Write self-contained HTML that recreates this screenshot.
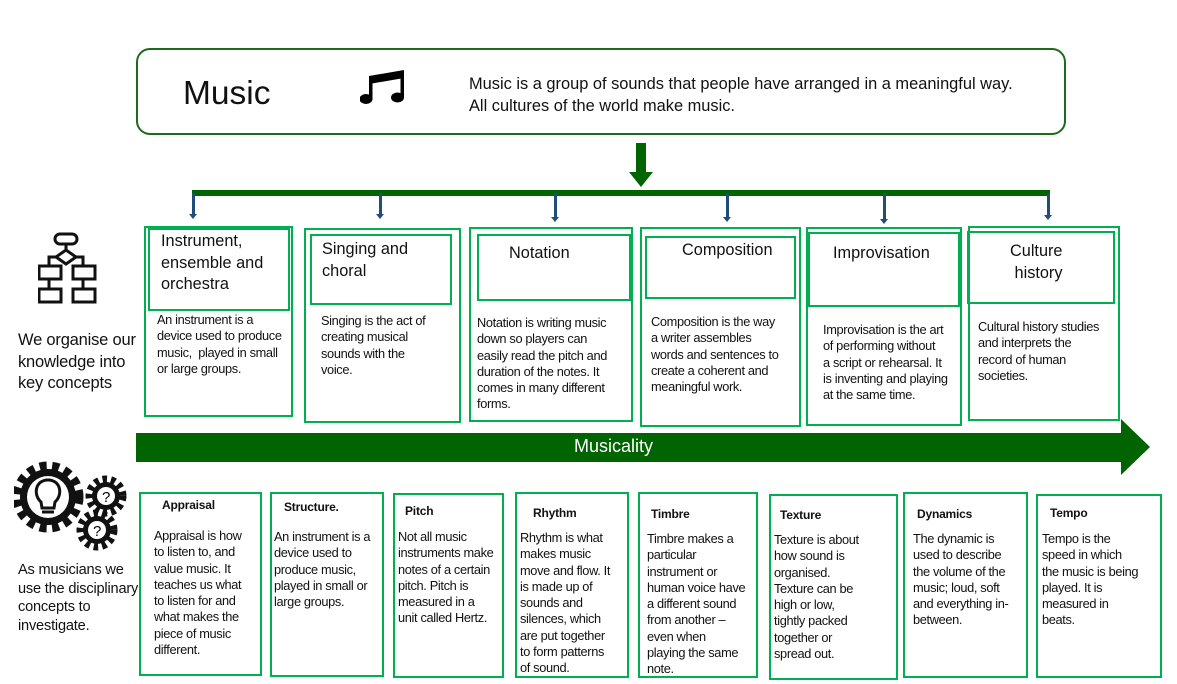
<!DOCTYPE html>
<html><head><meta charset="utf-8"><style>
body{margin:0;width:1177px;height:684px;background:#fff;position:relative;overflow:hidden;font-family:"Liberation Sans",sans-serif;color:#111}
.b{position:absolute;border:2px solid #00b050;box-sizing:border-box}
.t{position:absolute;white-space:nowrap;font-size:12.8px;line-height:16.3px;letter-spacing:-0.35px}
.h{position:absolute;white-space:nowrap;font-size:16.3px;line-height:21.5px}
.bh{position:absolute;white-space:nowrap;font-size:12px;font-weight:bold;letter-spacing:-0.2px}
.sa{position:absolute;width:3px;background:#1f4e79;top:193px}
.sa:after{content:"";position:absolute;left:-3px;bottom:-4px;border-left:4.5px solid transparent;border-right:4.5px solid transparent;border-top:5px solid #1f4e79}
</style></head><body>
<div style="position:absolute;left:136px;top:48px;width:930px;height:87px;border:2px solid #1e6b1e;border-radius:14px;box-sizing:border-box"></div>
<div style="position:absolute;left:183px;top:75px;font-size:33.5px">Music</div>
<svg style="position:absolute;left:360px;top:70px" width="46" height="36" viewBox="0 0 46 36">
<polygon points="9,6 44,0 44,8 9,14" fill="#000"/>
<rect x="9" y="6" width="3.5" height="24" fill="#000"/><rect x="40.5" y="1" width="3.5" height="27" fill="#000"/>
<ellipse cx="6" cy="29" rx="6.5" ry="5" fill="#000"/><ellipse cx="37.5" cy="27.5" rx="6.5" ry="5" fill="#000"/>
</svg>
<div style="position:absolute;left:469px;top:73px;font-size:16.4px;line-height:22px;white-space:nowrap">Music is a group of sounds that people have arranged in a meaningful way.<br>All cultures of the world make music.</div>
<!-- down arrow -->
<div style="position:absolute;left:636px;top:143px;width:10px;height:30px;background:#006400"></div>
<div style="position:absolute;left:629px;top:172px;border-left:12px solid transparent;border-right:12px solid transparent;border-top:15px solid #006400"></div>
<div style="position:absolute;left:192px;top:190px;width:858px;height:6px;background:#006400"></div>
<div class="sa" style="left:192px;height:22px"></div>
<div class="sa" style="left:379px;height:22px"></div>
<div class="sa" style="left:554px;height:25px"></div>
<div class="sa" style="left:726px;height:25px"></div>
<div class="sa" style="left:883px;height:27px"></div>
<div class="sa" style="left:1047px;height:23px"></div>
<!-- flowchart icon -->
<svg style="position:absolute;left:38px;top:232px" width="62" height="85" viewBox="0 0 62 85" fill="none" stroke="#111" stroke-width="3">
<rect x="17" y="2" width="22" height="10" rx="5"/><line x1="28" y1="12" x2="28" y2="18"/><polygon points="28,18 38,25 28,32 18,25"/>
<polyline points="18,25 11,25 11,34"/><polyline points="38,25 45,25 45,34"/>
<rect x="1" y="34" width="22" height="13"/><rect x="35" y="34" width="22" height="13"/>
<line x1="11" y1="47" x2="11" y2="57"/><line x1="45" y1="47" x2="45" y2="57"/>
<rect x="1" y="57" width="22" height="13"/><rect x="35" y="57" width="22" height="13"/>
</svg>
<div style="position:absolute;left:18px;top:330px;font-size:16.5px;line-height:21.5px;white-space:nowrap;letter-spacing:-0.2px">We organise our<br>knowledge into<br>key concepts</div>
<!-- top boxes -->
<div class="b" style="left:144px;top:226px;width:149px;height:191px"></div>
<div class="b" style="left:148px;top:228px;width:142px;height:83px"></div>
<div class="h" style="left:161px;top:231px">Instrument,<br>ensemble and<br>orchestra</div>
<div class="t" style="left:157px;top:312px">An instrument is a<br>device used to produce<br>music,&nbsp; played in small<br>or large groups.</div>

<div class="b" style="left:304px;top:228px;width:157px;height:195px"></div>
<div class="b" style="left:310px;top:234px;width:142px;height:71px"></div>
<div class="h" style="left:322px;top:239px">Singing and<br>choral</div>
<div class="t" style="left:321px;top:313px">Singing is the act of<br>creating musical<br>sounds with the<br>voice.</div>

<div class="b" style="left:469px;top:227px;width:164px;height:195px"></div>
<div class="b" style="left:477px;top:234px;width:154px;height:67px"></div>
<div class="h" style="left:509px;top:243px">Notation</div>
<div class="t" style="left:477px;top:315px">Notation is writing music<br>down so players can<br>easily read the pitch and<br>duration of the notes. It<br>comes in many different<br>forms.</div>

<div class="b" style="left:640px;top:227px;width:161px;height:200px"></div>
<div class="b" style="left:645px;top:236px;width:151px;height:63px"></div>
<div class="h" style="left:682px;top:240px">Composition</div>
<div class="t" style="left:651px;top:314px">Composition is the way<br>a writer assembles<br>words and sentences to<br>create a coherent and<br>meaningful work.</div>

<div class="b" style="left:806px;top:227px;width:156px;height:199px"></div>
<div class="b" style="left:808px;top:232px;width:152px;height:75px"></div>
<div class="h" style="left:833px;top:243px">Improvisation</div>
<div class="t" style="left:823px;top:322px">Improvisation is the art<br>of performing without<br>a script or rehearsal. It<br>is inventing and playing<br>at the same time.</div>

<div class="b" style="left:968px;top:226px;width:152px;height:195px"></div>
<div class="b" style="left:967px;top:231px;width:148px;height:73px"></div>
<div class="h" style="left:1010px;top:241px">Culture<br>&nbsp;history</div>
<div class="t" style="left:978px;top:319px">Cultural history studies<br>and interprets the<br>record of human<br>societies.</div>

<!-- Musicality arrow -->
<div style="position:absolute;left:136px;top:433px;width:986px;height:29px;background:#006400"></div>
<div style="position:absolute;left:1121px;top:419px;border-top:28px solid transparent;border-bottom:28px solid transparent;border-left:29px solid #006400"></div>
<div style="position:absolute;left:574px;top:436px;color:#fff;font-size:18px">Musicality</div>

<!-- gears icon -->
<svg style="position:absolute;left:14px;top:460px" width="115" height="100" viewBox="0 0 115 100">
<g fill="#111">
<circle cx="34" cy="37" r="28"/>
<g stroke="#111" stroke-width="9" stroke-dasharray="7 5.5"><circle cx="34" cy="37" r="31" fill="none"/></g>
<circle cx="92" cy="36" r="14"/><g stroke="#111" stroke-width="7" stroke-dasharray="4.5 4"><circle cx="92" cy="36" r="17" fill="none"/></g>
<circle cx="83" cy="70" r="14"/><g stroke="#111" stroke-width="7" stroke-dasharray="4.5 4"><circle cx="83" cy="70" r="17" fill="none"/></g>
</g>
<circle cx="34" cy="37" r="21" fill="#fff"/><circle cx="92" cy="36" r="9" fill="#fff"/><circle cx="83" cy="70" r="9" fill="#fff"/>
<path d="M27 42 C19 35 21 20 34 20 C47 20 49 35 41 42 L40 48 L28 48 Z" fill="none" stroke="#111" stroke-width="3"/>
<line x1="28" y1="52" x2="40" y2="52" stroke="#111" stroke-width="3"/>
<text x="88" y="42" font-size="15" font-family="Liberation Sans">?</text><text x="79" y="76" font-size="15" font-family="Liberation Sans">?</text>
</svg>
<div style="position:absolute;left:18px;top:561px;font-size:14.6px;line-height:18.5px;white-space:nowrap;letter-spacing:-0.2px">As musicians we<br>use the disciplinary<br>concepts to<br>investigate.</div>

<!-- bottom boxes -->
<div class="b" style="left:139px;top:492px;width:123px;height:184px"></div>
<div class="bh" style="left:162px;top:498px">Appraisal</div>
<div class="t" style="left:154px;top:528px">Appraisal is how<br>to listen to, and<br>value music. It<br>teaches us what<br>to listen for and<br>what makes the<br>piece of music<br>different.</div>

<div class="b" style="left:270px;top:492px;width:114px;height:185px"></div>
<div class="bh" style="left:284px;top:500px">Structure.</div>
<div class="t" style="left:274px;top:529px">An instrument is a<br>device used to<br>produce music,<br>played in small or<br>large groups.</div>

<div class="b" style="left:393px;top:493px;width:111px;height:185px"></div>
<div class="bh" style="left:405px;top:504px">Pitch</div>
<div class="t" style="left:398px;top:529px">Not all music<br>instruments make<br>notes of a certain<br>pitch. Pitch is<br>measured in a<br>unit called Hertz.</div>

<div class="b" style="left:515px;top:492px;width:114px;height:186px"></div>
<div class="bh" style="left:533px;top:506px">Rhythm</div>
<div class="t" style="left:520px;top:530px">Rhythm is what<br>makes music<br>move and flow. It<br>is made up of<br>sounds and<br>silences, which<br>are put together<br>to form patterns<br>of sound.</div>

<div class="b" style="left:638px;top:492px;width:120px;height:186px"></div>
<div class="bh" style="left:651px;top:507px">Timbre</div>
<div class="t" style="left:647px;top:531px">Timbre makes a<br>particular<br>instrument or<br>human voice have<br>a different sound<br>from another –<br>even when<br>playing the same<br>note.</div>

<div class="b" style="left:769px;top:494px;width:129px;height:186px"></div>
<div class="bh" style="left:780px;top:508px">Texture</div>
<div class="t" style="left:774px;top:532px">Texture is about<br>how sound is<br>organised.<br>Texture can be<br>high or low,<br>tightly packed<br>together or<br>spread out.</div>

<div class="b" style="left:903px;top:492px;width:125px;height:186px"></div>
<div class="bh" style="left:917px;top:507px">Dynamics</div>
<div class="t" style="left:913px;top:531px">The dynamic is<br>used to describe<br>the volume of the<br>music; loud, soft<br>and everything in-<br>between.</div>

<div class="b" style="left:1036px;top:494px;width:126px;height:184px"></div>
<div class="bh" style="left:1050px;top:506px">Tempo</div>
<div class="t" style="left:1042px;top:531px">Tempo is the<br>speed in which<br>the music is being<br>played. It is<br>measured in<br>beats.</div>
</body></html>
